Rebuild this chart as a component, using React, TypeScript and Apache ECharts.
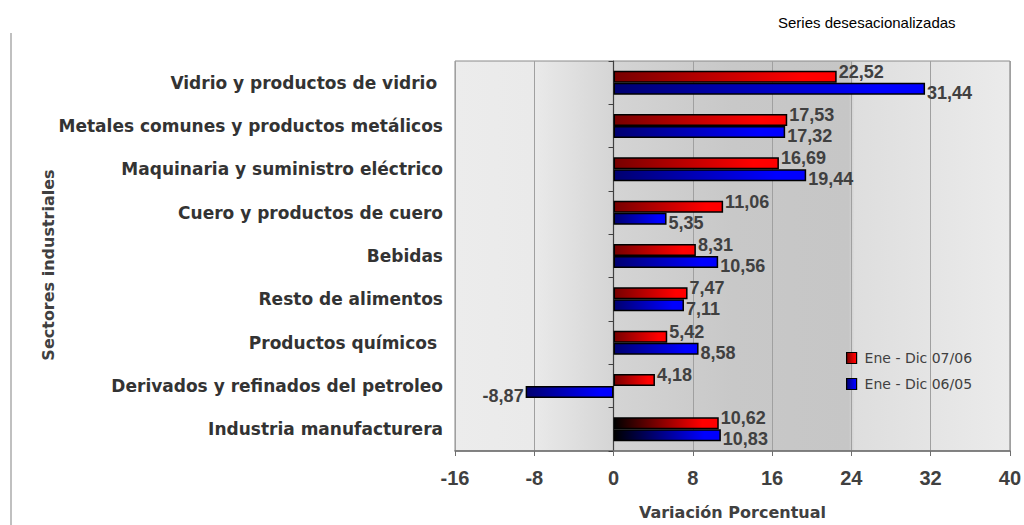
import React, { useEffect, useRef } from "react";
import * as echarts from "echarts";

const categories = [
  "Vidrio y productos de vidrio ",
  "Metales comunes y productos metálicos",
  "Maquinaria y suministro eléctrico",
  "Cuero y productos de cuero",
  "Bebidas",
  "Resto de alimentos",
  "Productos químicos ",
  "Derivados y refinados del petroleo",
  "Industria manufacturera",
];
const serie0706 = [22.52, 17.53, 16.69, 11.06, 8.31, 7.47, 5.42, 4.18, 10.62];
const serie0605 = [31.44, 17.32, 19.44, 5.35, 10.56, 7.11, 8.58, -8.87, 10.83];
const seriesNames = ["Ene - Dic 07/06", "Ene - Dic 06/05"];
const xTicks = { min: -16, max: 40, interval: 8 };

const fmt = (v: number) => v.toFixed(2).replace(".", ",");
const WIDE = "DejaVu Sans, Verdana, sans-serif";
const ARIAL = "Liberation Sans, Arial, sans-serif";

function barGrad(dark: string, bright: string) {
  return new echarts.graphic.LinearGradient(0, 0, 1, 0, [
    { offset: 0, color: dark },
    { offset: 0.85, color: bright },
    { offset: 1, color: bright },
  ]);
}

export default function App() {
  const ref = useRef<HTMLDivElement>(null);
  useEffect(() => {
    if (!ref.current) return;
    const chart = echarts.init(ref.current, undefined, { renderer: "svg" });
    const labelStyle = {
      show: true,
      fontFamily: ARIAL,
      fontWeight: "bold" as const,
      fontSize: 18,
      color: "#404040",
    };
    const mkData = (vals: number[], dark: string, bright: string, dy: number) =>
      vals.map((v, i) => ({
        value: v,
        itemStyle: {
          color: barGrad(i === vals.length - 1 ? "#000000" : dark, bright),
        },
        label: {
          ...labelStyle,
          position: v < 0 ? "left" : "right",
          distance: 2,
          offset: [0, dy],
          formatter: () => fmt(v),
        },
      }));
    chart.setOption({
      animation: false,
      backgroundColor: "#ffffff",
      textStyle: { fontFamily: ARIAL },
      title: {
        text: "Series desesacionalizadas",
        left: 773,
        top: 10,
        textStyle: { fontSize: 15, fontWeight: "normal", color: "#000", fontFamily: ARIAL },
      },
      graphic: [
        {
          type: "line",
          shape: { x1: 11, y1: 33, x2: 11, y2: 525 },
          style: { stroke: "#c0c0c0", lineWidth: 2 },
        },
        {
          type: "text",
          x: 48,
          y: 265,
          rotation: Math.PI / 2,
          style: {
            text: "Sectores industriales",
            font: "bold 16px " + WIDE,
            fill: "#404040",
            align: "center",
            verticalAlign: "middle",
          },
        },
      ],
      legend: {
        orient: "vertical",
        left: 846,
        top: 351,
        padding: 0,
        icon: "rect",
        itemWidth: 10,
        itemHeight: 11,
        itemGap: 12,
        textStyle: { fontSize: 14, color: "#404040", fontFamily: WIDE, padding: [0, 0, 0, 3] },
        data: [
          {
            name: seriesNames[0],
            itemStyle: { color: barGrad("#770000", "#ff0000"), borderColor: "#000", borderWidth: 1.2 },
          },
          {
            name: seriesNames[1],
            itemStyle: { color: barGrad("#000070", "#0000ff"), borderColor: "#000", borderWidth: 1.2 },
          },
        ],
      },
      grid: {
        left: 455,
        right: 12,
        top: 61,
        bottom: 72,
        show: true,
        borderColor: "#8a8a8a",
        borderWidth: 1,
        backgroundColor: new echarts.graphic.LinearGradient(0, 0, 1, 0, [
          { offset: 0, color: "#ececec" },
          { offset: 0.14, color: "#eaeaea" },
          { offset: 0.29, color: "#d4d4d4" },
          { offset: 0.5, color: "#c8c8c8" },
          { offset: 0.71, color: "#c6c6c6" },
          { offset: 0.72, color: "#dedede" },
          { offset: 1, color: "#ebebeb" },
        ]),
      },
      xAxis: {
        type: "value",
        min: xTicks.min,
        max: xTicks.max,
        interval: xTicks.interval,
        name: "Variación Porcentual",
        nameLocation: "middle",
        nameGap: 53,
        nameTextStyle: { fontSize: 16, fontWeight: "bold", color: "#404040", fontFamily: WIDE },
        axisLine: { show: true, lineStyle: { color: "#6e6e6e", width: 1.5 } },
        axisTick: { show: true, length: 5, lineStyle: { color: "#6e6e6e" } },
        axisLabel: { fontSize: 20, fontWeight: "bold", color: "#404040", margin: 17, fontFamily: ARIAL },
        splitLine: { show: true, lineStyle: { color: "#a0a0a0", width: 1 } },
      },
      yAxis: [
        {
          type: "category",
          data: categories,
          inverse: true,
          axisLine: { show: false, onZero: false },
          axisTick: { show: false },
          axisLabel: {
            fontSize: 17,
            fontWeight: "bold",
            color: "#333333",
            margin: 12,
            fontFamily: WIDE,
          },
        },
        {
          type: "category",
          data: categories,
          inverse: true,
          position: "left",
          axisLine: { show: true, onZero: true, lineStyle: { color: "#404040", width: 1.2 } },
          axisTick: { show: true, length: 5, lineStyle: { color: "#404040" } },
          axisLabel: { show: false },
        },
      ],
      series: [
        {
          name: seriesNames[0],
          type: "bar",
          yAxisIndex: 0,
          barWidth: 12,
          barGap: "0%",
          itemStyle: { borderColor: "#000", borderWidth: 1.5, color: "#e00000" },
          data: mkData(serie0706, "#770000", "#ff0000", -5),
        },
        {
          name: seriesNames[1],
          type: "bar",
          yAxisIndex: 0,
          barWidth: 12,
          barGap: "0%",
          itemStyle: { borderColor: "#000", borderWidth: 1.5, color: "#0000e0" },
          data: mkData(serie0605, "#000070", "#0000ff", 4),
        },
      ],
    });
    return () => chart.dispose();
  }, []);
  return (
    <div
      ref={ref}
      style={{ position: "fixed", left: 0, top: 0, width: 1024, height: 525 }}
    />
  );
}
